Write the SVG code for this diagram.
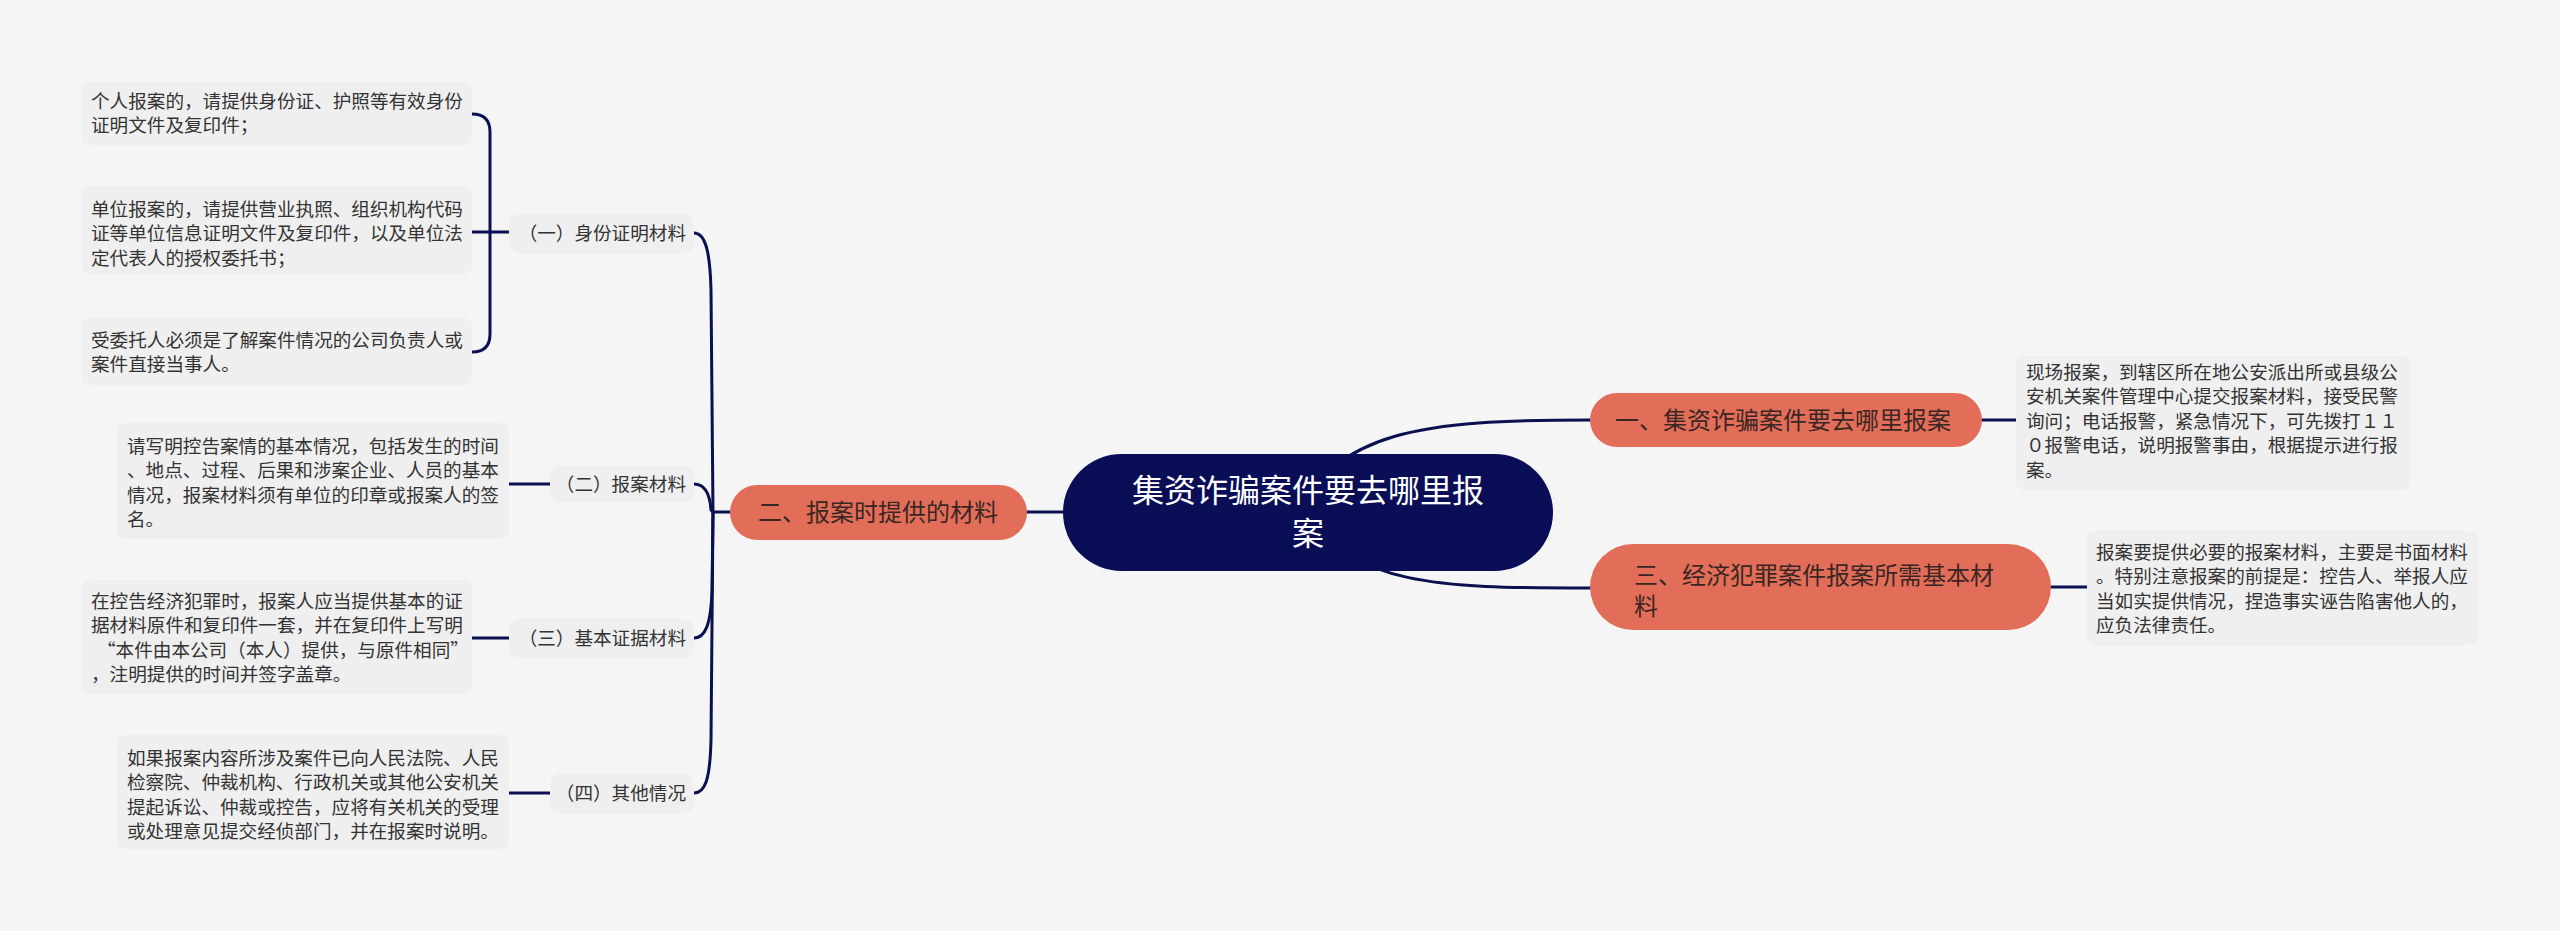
<svg xmlns="http://www.w3.org/2000/svg" width="2560" height="931" viewBox="0 0 2560 931">
<style>
text{font-family:"Noto Sans CJK SC","Noto Sans",sans-serif;}
.leaf{fill:#efefef;}
.lt{font-size:18.6px;fill:#333333;}
.sub{fill:#efefef;}
.br{fill:#e26e5a;}
.bt{font-size:24px;fill:#3a2622;}
.root{fill:#0a0e57;}
.rt{font-size:32px;fill:#ffffff;text-anchor:middle;}
.c{fill:none;stroke:#0b1150;stroke-width:3;stroke-linecap:round;}
</style>
<rect width="2560" height="931" fill="#f5f5f5"/>
<g id="connectors">
<path class="c" d="M1290 520 C1340 430 1420 420 1590 420"/>
<path class="c" d="M1300 512 C1360 585 1430 588 1590 588"/>
<path class="c" d="M1027 512 H1063"/>
<path class="c" d="M1982 420 H2016"/>
<path class="c" d="M2051 587 H2087"/>
<path class="c" d="M730 512 H713"/>
<path class="c" d="M713 512 L711 290 C710 250 705 233 694 233"/>
<path class="c" d="M713 512 L711 510 C710 495 705 484 694 484"/>
<path class="c" d="M713 512 L712 590 C711 625 705 638 694 638"/>
<path class="c" d="M713 512 L711 740 C710 780 705 793 694 793"/>
<path class="c" d="M472 114 Q490 114 490 132 L490 334 Q490 352 472 352"/>
<path class="c" d="M472 232 H509"/>
<path class="c" d="M509 484 H550"/>
<path class="c" d="M472 638 H509"/>
<path class="c" d="M509 793 H550"/>
</g>
<g id="root">
<rect class="root" x="1063" y="454" width="490" height="117" rx="58.5"/>
<text class="rt" x="1308" y="502">集资诈骗案件要去哪里报</text>
<text class="rt" x="1308" y="545">案</text>
</g>
<g id="branch1">
<rect class="br" x="1590" y="393" width="392" height="54" rx="27"/>
<text class="bt" x="1615" y="428.5">一、集资诈骗案件要去哪里报案</text>
</g>
<g id="branch2">
<rect class="br" x="730" y="485" width="297" height="55" rx="27.5"/>
<text class="bt" x="758" y="520.5">二、报案时提供的材料</text>
</g>
<g id="branch3">
<rect class="br" x="1590" y="544" width="461" height="86" rx="43"/>
<text class="bt" x="1634" y="583.5">三、经济犯罪案件报案所需基本材</text>
<text class="bt" x="1634" y="614.5">料</text>
</g>
<g id="leaf-r1">
<rect class="leaf" x="2016" y="356" width="394" height="134" rx="8"/>
<text class="lt" x="2026" y="378.5">现场报案，到辖区所在地公安派出所或县级公</text>
<text class="lt" x="2026" y="403">安机关案件管理中心提交报案材料，接受民警</text>
<text class="lt" x="2026" y="427.5">询问；电话报警，紧急情况下，可先拨打１１</text>
<text class="lt" x="2026" y="452">０报警电话，说明报警事由，根据提示进行报</text>
<text class="lt" x="2026" y="476.5">案。</text>
</g>
<g id="leaf-r3">
<rect class="leaf" x="2087" y="531" width="391" height="114" rx="8"/>
<text class="lt" x="2096" y="558.5">报案要提供必要的报案材料，主要是书面材料</text>
<text class="lt" x="2096" y="583">。特别注意报案的前提是：控告人、举报人应</text>
<text class="lt" x="2096" y="607.5">当如实提供情况，捏造事实诬告陷害他人的，</text>
<text class="lt" x="2096" y="632">应负法律责任。</text>
</g>
<g id="sub1">
<rect class="sub" x="509" y="214" width="185" height="39" rx="10"/>
<text class="lt" x="686" y="239.5" text-anchor="end">（一）身份证明材料</text>
</g>
<g id="sub2">
<rect class="sub" x="550" y="465" width="144" height="38" rx="10"/>
<text class="lt" x="686" y="490.5" text-anchor="end">（二）报案材料</text>
</g>
<g id="sub3">
<rect class="sub" x="509" y="619" width="185" height="39" rx="10"/>
<text class="lt" x="686" y="644.5" text-anchor="end">（三）基本证据材料</text>
</g>
<g id="sub4">
<rect class="sub" x="550" y="774" width="144" height="39" rx="10"/>
<text class="lt" x="686" y="799.5" text-anchor="end">（四）其他情况</text>
</g>
<g id="leaf-a">
<rect class="leaf" x="82" y="82" width="390" height="63" rx="8"/>
<text class="lt" x="91" y="107.5">个人报案的，请提供身份证、护照等有效身份</text>
<text class="lt" x="91" y="132">证明文件及复印件；</text>
</g>
<g id="leaf-b">
<rect class="leaf" x="82" y="186" width="390" height="88" rx="8"/>
<text class="lt" x="91" y="215.5">单位报案的，请提供营业执照、组织机构代码</text>
<text class="lt" x="91" y="240">证等单位信息证明文件及复印件，以及单位法</text>
<text class="lt" x="91" y="264.5">定代表人的授权委托书；</text>
</g>
<g id="leaf-c">
<rect class="leaf" x="82" y="318" width="390" height="67" rx="8"/>
<text class="lt" x="91" y="346.5">受委托人必须是了解案件情况的公司负责人或</text>
<text class="lt" x="91" y="371">案件直接当事人。</text>
</g>
<g id="leaf-d">
<rect class="leaf" x="117" y="423" width="392" height="116" rx="8"/>
<text class="lt" x="127" y="452.5">请写明控告案情的基本情况，包括发生的时间</text>
<text class="lt" x="127" y="477">、地点、过程、后果和涉案企业、人员的基本</text>
<text class="lt" x="127" y="501.5">情况，报案材料须有单位的印章或报案人的签</text>
<text class="lt" x="127" y="526">名。</text>
</g>
<g id="leaf-e">
<rect class="leaf" x="82" y="580" width="390" height="114" rx="8"/>
<text class="lt" x="91" y="607.5">在控告经济犯罪时，报案人应当提供基本的证</text>
<text class="lt" x="91" y="632">据材料原件和复印件一套，并在复印件上写明</text>
<text class="lt" x="97" y="656.5">“本件由本公司（本人）提供，与原件相同”</text>
<text class="lt" x="91" y="681">，注明提供的时间并签字盖章。</text>
</g>
<g id="leaf-f">
<rect class="leaf" x="117" y="735" width="392" height="114" rx="8"/>
<text class="lt" x="127" y="764.5">如果报案内容所涉及案件已向人民法院、人民</text>
<text class="lt" x="127" y="789">检察院、仲裁机构、行政机关或其他公安机关</text>
<text class="lt" x="127" y="813.5">提起诉讼、仲裁或控告，应将有关机关的受理</text>
<text class="lt" x="127" y="838">或处理意见提交经侦部门，并在报案时说明。</text>
</g>
</svg>
